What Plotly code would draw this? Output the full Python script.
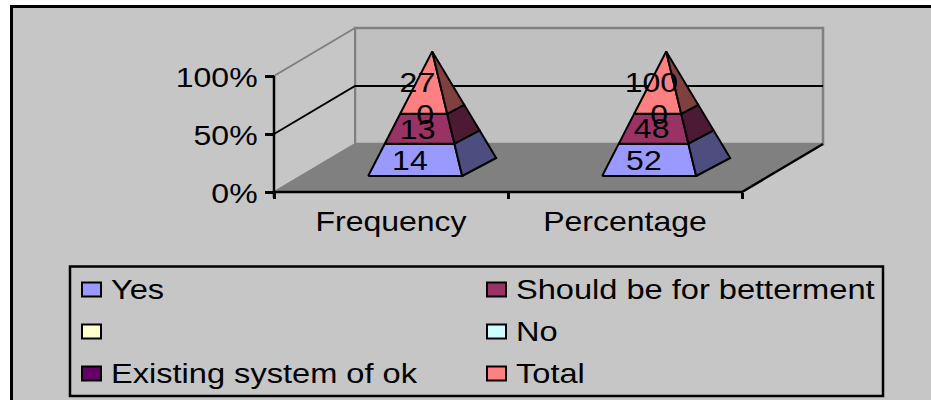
import plotly.graph_objects as go

# Source table: two measures, stacked to 100 % within each
categories = ["Frequency", "Percentage"]
series_names = ["Yes", "Should be for betterment", "", "No", "Existing system of ok", "Total"]
yes = [14, 52]
betterment = [13, 48]
blank = [None, None]
no = [None, None]
existing = [0, 0]
total = [27, 100]
percent_ticks = [0, 50, 100]

series_values = [yes, betterment, blank, no, existing, total]
front_colors = ["#9999FF", "#993366", "#FFFFCC", "#CCFFFF", "#660066", "#FF8080"]
side_colors = ["#4D4D80", "#4D1A33", "#808066", "#668080", "#330033", "#804040"]
label_nudge = [-0.032, -0.017, None, None, 0.006, -0.045]

WIDTH, HEIGHT = 931, 400
X0_PX, Y0_PX = 274, 192          # origin of the front plane
PX_PER_CAT, PX_PER_PCT = 234, 1.16
FONT = "Liberation Sans"
FONT_SIZE = 27
LEGEND_FONT_SIZE = 27.5
TEXT_STRETCH = 1.185
TEXT_DROP_PX = 3                 # vertical optical correction for middle-anchored text

# Oblique depth direction of the chart box, in axis units per unit of depth
DEPTH_X, DEPTH_Y = 81 / PX_PER_CAT, 48 / PX_PER_PCT


def project(x, depth, pct):
    return x + depth * DEPTH_X, pct + depth * DEPTH_Y


def px(x):
    return x / WIDTH


def py(y):
    return 1 - y / HEIGHT


def data_x(x):
    return (x - X0_PX) / PX_PER_CAT


def data_y(y):
    return (Y0_PX - y) / PX_PER_PCT


fig = go.Figure()


def poly(points, fill=None, color="black", width=2):
    xs, ys = zip(*points)
    fig.add_trace(go.Scatter(
        x=list(xs), y=list(ys), mode="lines", hoverinfo="skip", showlegend=False,
        fill="toself" if fill else None, fillcolor=fill,
        line=dict(color=color, width=width),
    ))


n = len(categories)
# Back wall, side wall and floor
poly([project(0, 1, 0), project(n, 1, 0), project(n, 1, 100), project(0, 1, 100), project(0, 1, 0)],
     fill="#C0C0C0", color="#808080", width=2.5)
poly([project(0, 0, 0), project(0, 1, 0), project(0, 1, 100), project(0, 0, 100), project(0, 0, 0)],
     fill="#C6C6C6", color="#808080", width=2)
poly([project(0, 0, 0), project(n, 0, 0), project(n, 1, 0), project(0, 1, 0), project(0, 0, 0)],
     fill="#808080", color="#808080", width=1)

# Gridline at 50 % and the black axis edges
poly([project(0, 0, 50), project(0, 1, 50), project(n, 1, 50)], width=2)
poly([project(0, 0, 0), project(n, 0, 0), project(n, 1, 0)], width=2.5)
poly([project(0, 0, -5), project(0, 0, 100)], width=2.5)

# Stacked pyramids
HALF_W = 0.2009
D_FRONT = 1 / 3
BACK_X = 34 / PX_PER_CAT          # horizontal run of the base's receding edge
BACK_Y = 18 / PX_PER_PCT
label_x, label_y, label_text = [], [], []

for c in range(n):
    centre = c + 0.488
    base_y = D_FRONT * DEPTH_Y
    left = (centre - HALF_W + D_FRONT * DEPTH_X, base_y)
    right = (centre + HALF_W + D_FRONT * DEPTH_X, base_y)
    back = (right[0] + BACK_X, base_y + BACK_Y)
    apex = ((left[0] + right[0]) / 2 + BACK_X / 2, 100 + base_y + BACK_Y / 2 - 0.5)

    def along(corner, f):
        return corner[0] + (apex[0] - corner[0]) * f, corner[1] + (apex[1] - corner[1]) * f

    stack_total = sum(v[c] for v in series_values if v[c] is not None)
    cum = 0
    for s, values in enumerate(series_values):
        v = values[c]
        if v is None:
            continue
        lo, hi = cum / stack_total, (cum + v) / stack_total
        cum += v
        mid = (lo + hi) / 2
        if v > 0:
            poly([along(left, lo), along(right, lo), along(right, hi), along(left, hi), along(left, lo)],
                 fill=front_colors[s])
            poly([along(right, lo), along(back, lo), along(back, hi), along(right, hi), along(right, lo)],
                 fill=side_colors[s])
        face_x = (along(left, mid)[0] + along(right, mid)[0]) / 2
        label_x.append(face_x + label_nudge[s])
        label_y.append(along(left, mid)[1] - TEXT_DROP_PX / PX_PER_PCT)
        label_text.append(str(v))

fig.add_trace(go.Scatter(
    x=label_x, y=label_y, text=label_text, mode="text", textposition="middle center",
    textfont=dict(family=FONT, size=FONT_SIZE, color="black"),
    hoverinfo="skip", showlegend=False, cliponaxis=False,
))

# Page backdrop, heavy frame and legend box
shapes = [
    dict(type="rect", xref="paper", yref="paper", x0=px(10), x1=1, y0=0, y1=py(5),
         fillcolor="black", line_width=0, layer="below"),
    dict(type="rect", xref="paper", yref="paper", x0=px(13), x1=1, y0=0, y1=py(8),
         fillcolor="#C6C6C6", line_width=0, layer="below"),
    dict(type="rect", xref="paper", yref="paper", x0=px(70), x1=px(883), y0=py(396), y1=py(266.5),
         fillcolor="rgba(0,0,0,0)", line=dict(color="black", width=2.5), layer="above"),
]
legend_cols = [(82, 111), (487, 516)]
legend_rows = [289.5, 331.5, 373.5]
legend_x, legend_y, legend_text = [], [], []
for i, name in enumerate(series_names):
    sx, tx = legend_cols[i % 2]
    row = legend_rows[i // 2]
    shapes.append(dict(type="rect", xref="paper", yref="paper", x0=px(sx), x1=px(sx + 19),
                       y0=py(row + 7), y1=py(row - 7), fillcolor=front_colors[i],
                       line=dict(color="black", width=2), layer="above"))
    if name:
        legend_x.append(data_x(tx))
        legend_y.append(data_y(row + TEXT_DROP_PX))
        legend_text.append(name)

fig.add_trace(go.Scatter(
    x=legend_x, y=legend_y, text=legend_text, mode="text", textposition="middle right",
    textfont=dict(family=FONT, size=LEGEND_FONT_SIZE, color="black"),
    hoverinfo="skip", showlegend=False, cliponaxis=False,
))

fig.update_layout(
    width=WIDTH, height=HEIGHT, autosize=False,
    margin=dict(l=0, r=0, t=0, b=0),
    paper_bgcolor="white", plot_bgcolor="rgba(0,0,0,0)",
    showlegend=False, shapes=shapes,
    xaxis=dict(
        range=[-X0_PX / PX_PER_CAT, (WIDTH - X0_PX) / PX_PER_CAT],
        anchor="free", position=py(Y0_PX),
        tickvals=[i + 0.5 for i in range(n)], ticktext=categories, ticks="",
        ticklabelstandoff=11,
        tickfont=dict(family=FONT, size=FONT_SIZE, color="black"),
        showgrid=False, zeroline=False, showline=False,
        minor=dict(tickvals=list(range(n + 1)), ticks="outside", ticklen=6, tickwidth=2.5,
                   tickcolor="black", showgrid=False),
    ),
    yaxis=dict(
        range=[(Y0_PX - HEIGHT) / PX_PER_PCT, Y0_PX / PX_PER_PCT],
        anchor="free", position=px(X0_PX),
        tickvals=percent_ticks, ticktext=[f"{t}%" for t in percent_ticks], ticks="outside",
        ticklen=9, tickwidth=2.5, tickcolor="black",
        ticklabelstandoff=2,
        tickfont=dict(family=FONT, size=FONT_SIZE, color="black"),
        showgrid=False, zeroline=False, showline=False,
    ),
)

# The chart's lettering is set wide: stretch each label horizontally about its anchor,
# and let the percent labels sit slightly lower against their ticks
stretch_js = """
document.querySelectorAll('.main-svg text').forEach(function (t) {
  var x = parseFloat(t.getAttribute('x')) || 0;
  var prev = t.getAttribute('transform') || '';
  var drop = t.closest('.ytick') ? 1.5 : 0;
  t.setAttribute('transform', prev + ' translate(' + x + ' ' + drop + ') scale(%s 1) translate(' + (-x) + ' 0)');
});
""" % TEXT_STRETCH

fig.write_html("out.html", config={"displayModeBar": False}, post_script=stretch_js)
